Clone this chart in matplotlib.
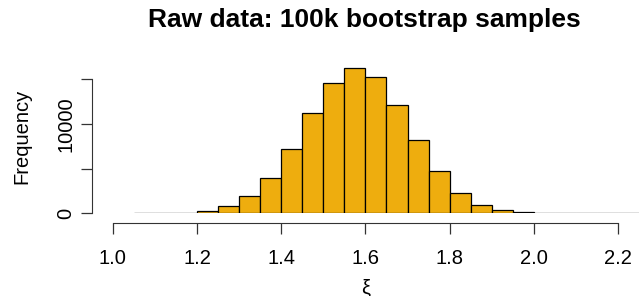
import numpy as np
import matplotlib
matplotlib.use("Agg")
import matplotlib.pyplot as plt

# bin edges (width 0.05) and bootstrap counts
bin_left = [1.05, 1.10, 1.15, 1.20, 1.25, 1.30, 1.35, 1.40, 1.45, 1.50, 1.55, 1.60,
            1.65, 1.70, 1.75, 1.80, 1.85, 1.90, 1.95, 2.00, 2.05, 2.10, 2.15, 2.20]
counts = [10, 20, 60, 260, 820, 1940, 3915, 7195, 11190, 14620, 16220, 15210,
          12120, 8200, 4735, 2310, 930, 410, 150, 60, 25, 10, 5, 3]
bin_width = 0.05

x_ticks = [1.0, 1.2, 1.4, 1.6, 1.8, 2.0, 2.2]
x_tick_labels = ["1.0", "1.2", "1.4", "1.6", "1.8", "2.0", "2.2"]
y_ticks = [0, 5000, 10000, 15000]
y_tick_labels = ["0", "", "10000", ""]

plt.rcParams['font.family'] = ['Liberation Sans', 'DejaVu Sans']

W, H = 639, 296
fig = plt.figure(figsize=(W / 100, H / 100), dpi=100)
ax = fig.add_axes([92.3 / W, 1 - 213.3 / H, 1 - 92.3 / W, (213.3 - 60) / H])

ax.bar(bin_left, counts, width=bin_width, align='edge',
       color='#EEAD0E', edgecolor='black', linewidth=0.9)

ax.set_xlim(0.951, 2.25)
ax.set_ylim(0, 17160)

for s in ['top', 'right']:
    ax.spines[s].set_visible(False)
ax.spines['bottom'].set_position(('outward', 7))
ax.spines['bottom'].set_bounds(1.0, 2.2)
ax.spines['left'].set_bounds(0, 15000)
ax.spines['left'].set_color('#333333')
ax.spines['bottom'].set_color('#333333')

ax.set_xticks(x_ticks)
ax.set_xticklabels(x_tick_labels)
ax.set_yticks(y_ticks)
ax.set_yticklabels(y_tick_labels, rotation=90, va='center')
ax.tick_params(axis='both', length=8, width=0.9, color='#333333', labelsize=14.5)
ax.tick_params(axis='x', pad=11)
ax.tick_params(axis='y', pad=4)

ax.set_xlabel("ξ", fontsize=14.5, labelpad=7)
ax.set_ylabel("Frequency", fontsize=14.5, labelpad=18)
fig.text(364.5 / W, 1 - 20 / H, "Raw data: 100k bootstrap samples",
         ha='center', va='center', fontsize=19, fontweight='bold')

plt.savefig("out.png", dpi=100)
